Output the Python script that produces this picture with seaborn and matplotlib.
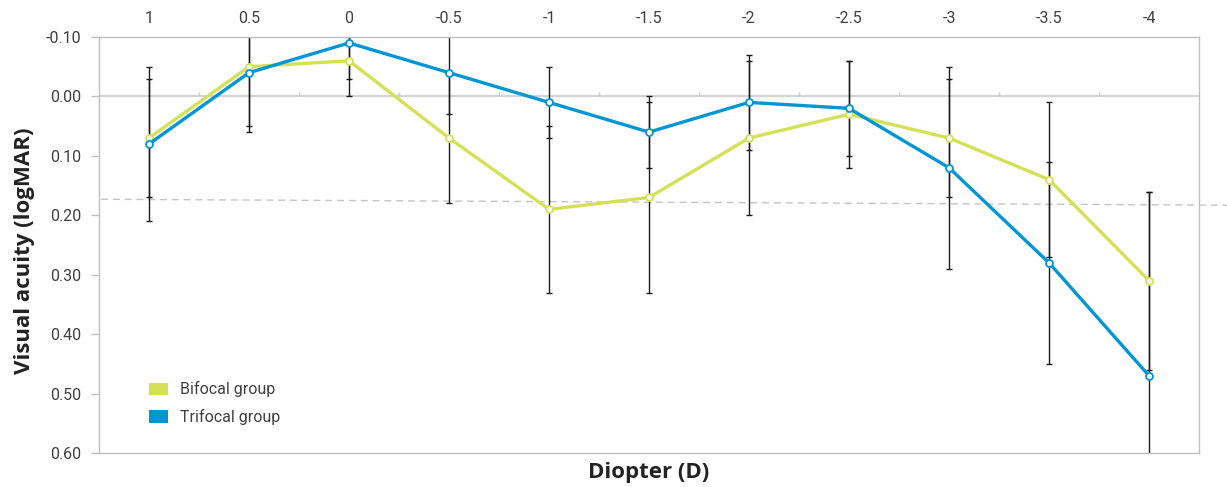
import matplotlib.pyplot as plt
import seaborn as sns
import pandas as pd
from matplotlib.patches import Patch

# ---- data ----
diopters = ["1", "0.5", "0", "-0.5", "-1", "-1.5", "-2", "-2.5", "-3", "-3.5", "-4"]
bifocal_mean = [0.07, -0.05, -0.06, 0.07, 0.19, 0.17, 0.07, 0.03, 0.07, 0.14, 0.31]
bifocal_sd = [0.10, 0.10, 0.06, 0.11, 0.14, 0.16, 0.13, 0.09, 0.10, 0.13, 0.15]
trifocal_mean = [0.08, -0.04, -0.09, -0.04, 0.01, 0.06, 0.01, 0.02, 0.12, 0.28, 0.47]
trifocal_sd = [0.13, 0.10, 0.06, 0.07, 0.06, 0.06, 0.08, 0.08, 0.17, 0.17, 0.31]
y_ticks = [-0.10, 0.00, 0.10, 0.20, 0.30, 0.40, 0.50, 0.60]
# faint dashed reference line (runs a bit past the right edge)
ref_x = [-0.48, 10.78]
ref_y = [0.173, 0.183]

groups = ["Bifocal group", "Trifocal group"]
colors = {"Bifocal group": "#d4e157", "Trifocal group": "#0096d6"}

pos = list(range(len(diopters)))
df = pd.DataFrame({
    "pos": pos * 2,
    "va": bifocal_mean + trifocal_mean,
    "sd": bifocal_sd + trifocal_sd,
    "group": [groups[0]] * len(pos) + [groups[1]] * len(pos),
})

sns.set_style("white")
plt.rcParams["font.family"] = ["Roboto", "DejaVu Sans"]

fig = plt.figure(figsize=(12.27, 4.87), dpi=100)
ax = fig.add_axes([0.0807, 0.0698, 0.8965, 0.8542])

# error bars first so the lines sit on top
for g in groups:
    d = df[df["group"] == g]
    ax.errorbar(d["pos"], d["va"], yerr=d["sd"], fmt="none",
                ecolor="#1a1a1a", elinewidth=1, capsize=2.2, capthick=1, zorder=2)

sns.lineplot(data=df, x="pos", y="va", hue="group", palette=colors,
             linewidth=2.4, marker="o", markersize=5, markerfacecolor="white",
             markeredgewidth=1.3, legend=False, ax=ax, zorder=3)
# white-filled markers keep their series colour on the edge
for line, g in zip(ax.get_lines()[-2:], groups):
    line.set_markeredgecolor(colors[g])

ax.plot(ref_x, ref_y, color="#c4c4c4", lw=1, ls=(0, (5, 3.5)), clip_on=False, zorder=1)

# zero line with small ticks between categories
ax.axhline(0, color="#d4d4d4", lw=1.6, zorder=1)
ax.vlines([p + 0.5 for p in pos[:-1]], 0, -0.007, color="#c8c8c8", lw=1, zorder=1)

ax.set_xlim(-0.5, len(diopters) - 0.5)
ax.set_ylim(0.60, -0.10)
ax.set_yticks(y_ticks)
ax.set_yticklabels([f"{v:.2f}" for v in y_ticks])
ax.xaxis.tick_top()
ax.set_xticks(pos)
ax.set_xticklabels(diopters)
ax.tick_params(axis="x", length=0, pad=8, labelsize=11.5, labelcolor="#404040")
ax.tick_params(axis="y", direction="out", length=6, width=1, color="#bfbfbf",
               pad=7, labelsize=11.5, labelcolor="#404040", left=True)

for s in ax.spines.values():
    s.set_color("#bfbfbf")
    s.set_linewidth(1)

ax.set_xlabel("")
ax.set_ylabel("Visual acuity (logMAR)", fontsize=16, fontweight="bold",
              family="Open Sans", color="#222222")
ax.yaxis.set_label_coords(-0.058, 0.485)
fig.text(0.529, 0.03, "Diopter (D)", ha="center", va="center",
         fontsize=16, fontweight="bold", family="Open Sans", color="#222222")

handles = [Patch(facecolor=colors[g], edgecolor="none") for g in groups]
ax.legend(handles, groups, loc="upper left", bbox_to_anchor=(0.045, 0.172),
          frameon=False, fontsize=11.5, labelcolor="#404040", borderpad=0,
          borderaxespad=0, handlelength=1.25, handleheight=0.85,
          handletextpad=0.7, labelspacing=0.7)

fig.savefig("out.png", dpi=100)
